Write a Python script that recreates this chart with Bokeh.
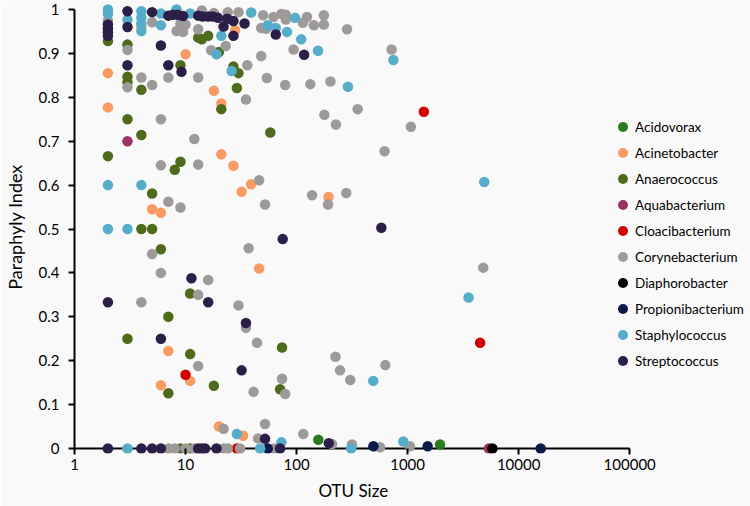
from bokeh.plotting import figure
from bokeh.models import (Range1d, FixedTicker, NumeralTickFormatter, Legend, LegendItem,
                          ColumnDataSource, Title)
from bokeh.embed import file_html
from bokeh.resources import INLINE

# ---------------- data ----------------
categories = ["Acidovorax", "Acinetobacter", "Anaerococcus", "Aquabacterium", "Cloacibacterium",
              "Corynebacterium", "Diaphorobacter", "Propionibacterium", "Staphylococcus", "Streptococcus"]
colors = ["#2A7B1E", "#F99B62", "#4E6B1C", "#9A3466", "#D00000",
          "#9E9A9A", "#000000", "#0B1A48", "#55ADC9", "#2B1F47"]

x_title = "OTU Size"
y_title = "Paraphyly Index"
x_ticks = [1, 10, 100, 1000, 10000, 100000]
y_ticks = [0, 0.1, 0.2, 0.3, 0.4, 0.5, 0.6, 0.7, 0.8, 0.9, 1]

acidovorax_otu = [157, 1960]
acidovorax_pi = [0.02, 0.009]

acinetobacter_otu = [2, 2, 4, 10, 18, 21, 21, 28, 27, 39, 32, 5, 6, 194, 46, 7, 11, 6, 20, 33]
acinetobacter_pi = [0.855, 0.777, 0.96, 0.898, 0.815, 0.786, 0.67, 0.953, 0.644, 0.602, 0.585,
                    0.545, 0.537, 0.573, 0.41, 0.222, 0.154, 0.144, 0.05, 0.029]

anaerococcus_otu = [2, 3, 3, 3, 3, 3, 4, 4, 4, 5, 5, 6, 2, 7, 7, 9, 9, 8, 11, 11, 18, 13, 14, 16,
                    20, 27, 30, 29, 21, 58, 74, 71, 9, 11]
anaerococcus_pi = [0.928, 0.92, 0.847, 0.834, 0.75, 0.25, 0.817, 0.714, 0.5, 0.581, 0.5, 0.454,
                   0.666, 0.30, 0.126, 0.873, 0.653, 0.635, 0.353, 0.215, 0.143, 0.936, 0.932, 0.94,
                   0.903, 0.87, 0.855, 0.821, 0.773, 0.72, 0.23, 0.135, 0, 0]

aquabacterium_otu = [3, 5400]
aquabacterium_pi = [0.70, 0]

cloacibacterium_otu = [1400, 4500, 10, 29]
cloacibacterium_pi = [0.767, 0.241, 0.168, 0]

corynebacterium_otu = [2, 5, 14, 18, 24, 30, 50, 62, 73, 80, 80, 124, 114, 176, 176, 143, 285, 48, 53,
                       9, 10, 8.3, 9.5, 13, 3, 23, 17, 94, 48, 718, 36, 4, 7, 13, 5, 3, 54, 79, 133,
                       202, 35, 178, 226, 355, 1070, 6, 12, 620, 6, 13, 46, 52, 138, 192, 280, 7, 9,
                       5, 6, 37, 4800, 16, 13, 4, 30, 35, 44, 13, 74, 41, 79, 224, 246, 304, 630,
                       22, 45, 52, 115, 209, 316, 565, 1050, 7, 8, 10, 12, 22, 24, 31, 63]
corynebacterium_pi = [0.975, 0.971, 0.998, 0.992, 0.994, 0.994, 0.987, 0.983, 0.99, 0.988, 0.977,
                      0.983, 0.97, 0.987, 0.966, 0.964, 0.955, 0.958, 0.956, 0.968, 0.966, 0.951,
                      0.949, 0.955, 0.908, 0.917, 0.907, 0.909, 0.894, 0.909, 0.873, 0.845, 0.845,
                      0.845, 0.828, 0.823, 0.844, 0.828, 0.83, 0.836, 0.795, 0.76, 0.738, 0.773,
                      0.733, 0.75, 0.705, 0.677, 0.645, 0.647, 0.611, 0.556, 0.577, 0.556, 0.582,
                      0.562, 0.549, 0.443, 0.40, 0.456, 0.412, 0.384, 0.35, 0.333, 0.326, 0.275,
                      0.241, 0.188, 0.159, 0.129, 0.124, 0.209, 0.178, 0.156, 0.19, 0.045, 0.023,
                      0.056, 0.033, 0.01, 0.009, 0.003, 0.005, 0, 0, 0, 0, 0, 0, 0, 0]

diaphorobacter_otu = [5800]
diaphorobacter_pi = [0]

propionibacterium_otu = [55, 492, 1515, 15800]
propionibacterium_pi = [0, 0.005, 0.005, 0]

staphylococcus_otu = [2, 2, 3, 4, 4, 4, 4, 6, 6, 8.3, 11, 21, 19, 26, 39, 97, 55, 65, 82, 110, 156,
                      290, 745, 2, 4, 2, 3, 4900, 3540, 490, 29, 73, 915, 3, 47, 310]
staphylococcus_pi = [1.0, 0.99, 0.977, 0.996, 0.982, 0.968, 0.951, 0.991, 0.964, 1.0, 0.991, 0.94,
                     0.898, 0.86, 0.993, 0.981, 0.964, 0.958, 0.949, 0.932, 0.906, 0.824, 0.885,
                     0.60, 0.60, 0.50, 0.50, 0.607, 0.344, 0.154, 0.033, 0.014, 0.016, 0, 0, 0]

streptococcus_otu = [2, 2, 2, 2, 3, 3, 3, 5, 7, 7.7, 8.5, 9.5, 13, 14.3, 16, 17.7, 19.6, 23.7, 27, 34,
                     22, 27, 6, 7, 9.2, 65, 117, 75, 580, 11.3, 2, 16, 35, 6, 32, 52, 195,
                     2, 4, 5, 6, 13, 14, 15, 19, 71]
streptococcus_pi = [0.966, 0.957, 0.948, 0.94, 0.996, 0.96, 0.873, 0.994, 0.986, 0.988, 0.988, 0.985,
                    0.986, 0.984, 0.984, 0.984, 0.981, 0.979, 0.974, 0.968, 0.961, 0.94, 0.918,
                    0.873, 0.858, 0.943, 0.897, 0.477, 0.503, 0.388, 0.333, 0.333, 0.286, 0.25,
                    0.178, 0.022, 0.012, 0, 0, 0, 0, 0, 0, 0, 0, 0]

series = [
    (acidovorax_otu, acidovorax_pi),
    (acinetobacter_otu, acinetobacter_pi),
    (anaerococcus_otu, anaerococcus_pi),
    (aquabacterium_otu, aquabacterium_pi),
    (cloacibacterium_otu, cloacibacterium_pi),
    (corynebacterium_otu, corynebacterium_pi),
    (diaphorobacter_otu, diaphorobacter_pi),
    (propionibacterium_otu, propionibacterium_pi),
    (staphylococcus_otu, staphylococcus_pi),
    (streptococcus_otu, streptococcus_pi),
]

# ---------------- layout ----------------
FONT = "Lato"
BG = "#FAF9FA"
W, H = 750, 506
LEFT = 73
FRAME_H = 453
BOTTOM = H - FRAME_H
FRAME_W = W - LEFT
DECADE_PX = 111.2
Y_UNIT_PX = 439.0
Y_PAD_BOTTOM = 5.0
Y_PAD_TOP = FRAME_H - Y_PAD_BOTTOM - Y_UNIT_PX

p = figure(width=W, height=H, x_axis_type="log",
           x_range=Range1d(x_ticks[0], x_ticks[0] * 10 ** (FRAME_W / DECADE_PX)),
           y_range=Range1d(-Y_PAD_BOTTOM / Y_UNIT_PX, 1 + Y_PAD_TOP / Y_UNIT_PX),
           min_border_left=LEFT, min_border_right=0, min_border_top=0, min_border_bottom=BOTTOM,
           output_backend="svg", toolbar_location=None)

p.background_fill_color = BG
p.border_fill_color = BG
p.outline_line_color = None
p.xgrid.visible = False
p.ygrid.visible = False

# x axis line at y = 0 (runs from first to last tick)
p.segment(x0=[x_ticks[0]], y0=[y_ticks[0]], x1=[x_ticks[-1]], y1=[y_ticks[0]],
          line_color="black", line_width=2)

items = []
for name, color, (xs, ys) in zip(categories, colors, series):
    src = ColumnDataSource(dict(x=xs, y=ys))
    r = p.scatter("x", "y", source=src, size=10.5, fill_color=color, line_color=None)
    items.append(LegendItem(label=name, renderers=[r]))

xa = p.xaxis[0]
xa.ticker = FixedTicker(ticks=x_ticks)
xa.formatter = NumeralTickFormatter(format="0")
xa.bounds = (x_ticks[0], x_ticks[-1])
xa.axis_line_color = None
xa.major_tick_in = 5
xa.major_tick_out = 1
xa.major_tick_line_width = 2
xa.major_tick_line_color = "black"
xa.minor_tick_line_color = None
xa.major_label_standoff = 4
xa.major_label_text_font = FONT
xa.major_label_text_font_size = "15px"
xa.major_label_text_color = "black"

# x axis title, centred under the tick span (frame extends right for the legend)
p.add_layout(Title(text=x_title, align="left", offset=244, standoff=10,
                   text_font=FONT, text_font_size="17px", text_font_style="normal",
                   text_color="black"), "below")

ya = p.yaxis[0]
ya.ticker = FixedTicker(ticks=y_ticks)
ya.formatter = NumeralTickFormatter(format="0.[0]")
ya.bounds = (y_ticks[0], y_ticks[-1])
ya.axis_line_color = "black"
ya.axis_line_width = 2
ya.major_tick_in = 0
ya.major_tick_out = 6
ya.major_tick_line_width = 2
ya.major_tick_line_color = "black"
ya.minor_tick_line_color = None
ya.major_label_standoff = 9
ya.major_label_text_font = FONT
ya.major_label_text_font_size = "15px"
ya.major_label_text_color = "black"
ya.axis_label = y_title
ya.axis_label_text_font = FONT
ya.axis_label_text_font_size = "18px"
ya.axis_label_text_font_style = "normal"
ya.axis_label_text_color = "black"
ya.axis_label_standoff = 10

legend = Legend(items=items, location=(536, 80),
                border_line_color=None, background_fill_alpha=0,
                padding=0, margin=0, spacing=1,
                glyph_width=25, glyph_height=25, label_height=25,
                label_standoff=-5,
                label_text_font=FONT, label_text_font_size="13.5px",
                label_text_color="black")
p.add_layout(legend)

open("out.html", "w").write(file_html(p, INLINE))
